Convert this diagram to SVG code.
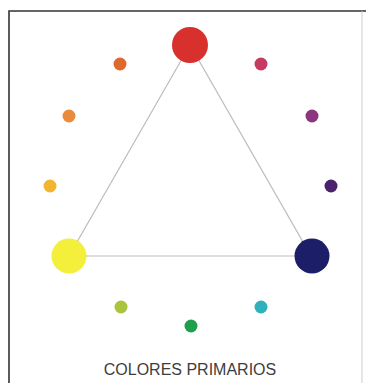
<svg xmlns="http://www.w3.org/2000/svg" width="366" height="383" viewBox="0 0 366 383">
<style>
.frame{fill:none;stroke:#333;stroke-width:1.6}
.frame2{fill:none;stroke:#ccc;stroke-width:1}
.edge{fill:none;stroke:#bdbdbd;stroke-width:1.2}
.label{font-family:"Liberation Sans",Arial,sans-serif;font-size:16px;fill:#3d3d3d;text-anchor:middle}
</style>
<rect width="366" height="383" fill="#fff"/>
<path class="frame" d="M9,383 V11 H366"/>
<path class="frame2" d="M362,11 V383"/>
<g id="connectors">
<polygon class="edge" points="190,45 69,256 311,256"/>
</g>
<g id="rojo"><circle cx="190" cy="45" r="18" fill="#d8302c"/></g>
<g id="amarillo"><circle cx="69" cy="256" r="17.5" fill="#f3ef3a"/></g>
<g id="azul"><circle cx="312" cy="256" r="17.5" fill="#1c1f68"/></g>
<g id="rojo-anaranjado"><circle cx="120" cy="64" r="6.5" fill="#dd6a2c"/></g>
<g id="anaranjado"><circle cx="69" cy="116" r="6.5" fill="#e98b3a"/></g>
<g id="amarillo-anaranjado"><circle cx="50" cy="186" r="6.5" fill="#f2b431"/></g>
<g id="rojo-violeta"><circle cx="261" cy="64" r="6.5" fill="#c63a62"/></g>
<g id="violeta"><circle cx="312" cy="116" r="6.5" fill="#8c3680"/></g>
<g id="azul-violeta"><circle cx="331" cy="186" r="6.5" fill="#4b226c"/></g>
<g id="amarillo-verde"><circle cx="121" cy="307" r="6.5" fill="#a9c43e"/></g>
<g id="verde"><circle cx="191" cy="326" r="6.5" fill="#1f9e4e"/></g>
<g id="azul-verde"><circle cx="261" cy="307" r="6.5" fill="#2fb1bb"/></g>
<text class="label" x="190" y="375">COLORES PRIMARIOS</text>
</svg>
